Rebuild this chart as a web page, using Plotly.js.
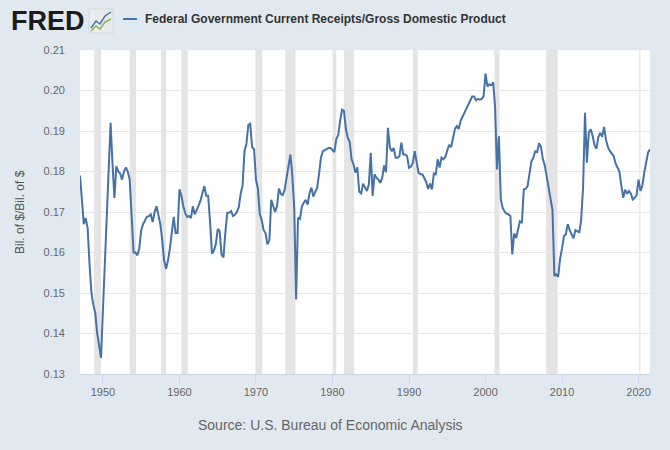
<!DOCTYPE html>
<html>
<head>
<meta charset="utf-8">
<script src="https://cdn.plot.ly/plotly-3.0.1.min.js"></script>
<style>
  html, body { margin: 0; padding: 0; background: #e1e9f0; }
  #chart { width: 670px; height: 450px; }
</style>
</head>
<body>
<div id="chart"></div>
<script>
// Quarterly series, first observation 1947 Q1, last 2021 Q3
const startYear = 1947;
const seriesName = "Federal Government Current Receipts/Gross Domestic Product";
const receiptsToGdp = [
  0.1790,0.1730,0.1670,0.1685, 0.1660,0.1570,0.1500,0.1470, 0.1450,0.1400,0.1370,0.1340,
  0.1460,0.1580,0.1690,0.1780, 0.1920,0.1820,0.1735,0.1813, 0.1800,0.1795,0.1780,0.1800,
  0.1810,0.1800,0.1780,0.1690, 0.1600,0.1600,0.1593,0.1610, 0.1655,0.1670,0.1680,0.1688,
  0.1690,0.1694,0.1675,0.1700, 0.1714,0.1694,0.1670,0.1630, 0.1580,0.1560,0.1580,0.1610,
  0.1650,0.1688,0.1648,0.1648, 0.1756,0.1740,0.1715,0.1698, 0.1688,0.1690,0.1685,0.1714,
  0.1694,0.1703,0.1716,0.1728, 0.1745,0.1764,0.1740,0.1740, 0.1675,0.1597,0.1605,0.1620,
  0.1658,0.1653,0.1595,0.1588, 0.1650,0.1698,0.1698,0.1702, 0.1690,0.1693,0.1700,0.1712,
  0.1745,0.1765,0.1850,0.1868, 0.1915,0.1918,0.1860,0.1855, 0.1780,0.1758,0.1695,0.1680,
  0.1655,0.1648,0.1620,0.1630, 0.1730,0.1714,0.1700,0.1714, 0.1758,0.1745,0.1742,0.1755,
  0.1788,0.1810,0.1842,0.1790, 0.1710,0.1484,0.1686,0.1683, 0.1714,0.1723,0.1730,0.1718,
  0.1747,0.1760,0.1738,0.1750, 0.1760,0.1795,0.1835,0.1850, 0.1853,0.1856,0.1858,0.1858,
  0.1852,0.1848,0.1880,0.1890, 0.1926,0.1953,0.1950,0.1905, 0.1883,0.1873,0.1830,0.1818,
  0.1797,0.1810,0.1750,0.1746, 0.1770,0.1762,0.1752,0.1768, 0.1846,0.1740,0.1793,0.1784,
  0.1780,0.1772,0.1784,0.1815, 0.1798,0.1908,0.1860,0.1850, 0.1858,0.1834,0.1834,0.1838,
  0.1871,0.1842,0.1842,0.1838, 0.1809,0.1812,0.1821,0.1850, 0.1825,0.1797,0.1793,0.1793,
  0.1784,0.1774,0.1757,0.1770, 0.1756,0.1795,0.1793,0.1830, 0.1810,0.1834,0.1830,0.1836,
  0.1852,0.1866,0.1860,0.1882, 0.1905,0.1912,0.1905,0.1925, 0.1935,0.1943,0.1955,0.1963,
  0.1976,0.1985,0.1985,0.1976, 0.1979,0.1978,0.1979,0.1986, 0.2042,0.2010,0.2015,0.2013,
  0.2020,0.1960,0.1805,0.1887, 0.1730,0.1710,0.1701,0.1696, 0.1694,0.1690,0.1595,0.1647,
  0.1636,0.1655,0.1677,0.1673, 0.1756,0.1757,0.1764,0.1795, 0.1825,0.1834,0.1850,0.1848,
  0.1870,0.1861,0.1830,0.1815, 0.1788,0.1755,0.1725,0.1705, 0.1542,0.1546,0.1540,0.1585,
  0.1610,0.1640,0.1645,0.1670, 0.1655,0.1643,0.1635,0.1655, 0.1653,0.1649,0.1680,0.1760,
  0.1945,0.1822,0.1896,0.1904, 0.1888,0.1865,0.1856,0.1885, 0.1895,0.1886,0.1910,0.1878,
  0.1860,0.1851,0.1845,0.1838, 0.1820,0.1808,0.1800,0.1765, 0.1735,0.1755,0.1745,0.1752,
  0.1745,0.1731,0.1735,0.1742, 0.1780,0.1752,0.1765,0.1798, 0.1826,0.1847,0.1855
];
const recessionStarts = ["1948-11-01","1953-07-01","1957-08-01","1960-04-01","1969-12-01","1973-11-01","1980-01-01","1981-07-01","1990-07-01","2001-03-01","2007-12-01","2020-02-01"];
const recessionEnds   = ["1949-10-01","1954-05-01","1958-04-01","1961-02-01","1970-11-01","1975-03-01","1980-07-01","1982-11-01","1991-03-01","2001-11-01","2009-06-01","2020-04-01"];
const yTickVals = [0.13,0.14,0.15,0.16,0.17,0.18,0.19,0.20,0.21];
const yTitle = "Bil. of $/Bil. of $";
const sourceText = "Source: U.S. Bureau of Economic Analysis";

const months = ["01","04","07","10"];
const dates = receiptsToGdp.map((v, i) => (startYear + Math.floor(i / 4)) + "-" + months[i % 4] + "-01");

const W = 670, H = 450, mL = 80, mR = 20, mT = 50, mB = 76;
const pw = W - mL - mR, ph = H - mT - mB;
const px = x => (x - mL) / pw;
const py = y => (H - mB - y) / ph;

const font = "Liberation Sans, Arial, sans-serif";

const shapes = recessionStarts.map((s, i) => ({
  type: "rect", xref: "x", yref: "paper", x0: s, x1: recessionEnds[i], y0: 0, y1: 1,
  fillcolor: "#e4e4e4", line: { width: 0 }, layer: "below"
}));
// FRED logo icon
shapes.push({ type: "rect", xref: "paper", yref: "paper", x0: px(89), x1: px(113), y0: py(33), y1: py(9),
  fillcolor: "#e8ecef", line: { color: "#d0d6dc", width: 1 } });
shapes.push({ type: "path", xref: "paper", yref: "paper",
  path: `M ${px(91)} ${py(28)} L ${px(96)} ${py(21)} L ${px(100)} ${py(24)} L ${px(105)} ${py(16)} L ${px(111)} ${py(12)}`,
  line: { color: "#4572a7", width: 1.5 } });
shapes.push({ type: "path", xref: "paper", yref: "paper",
  path: `M ${px(91)} ${py(31)} L ${px(96)} ${py(26)} L ${px(100)} ${py(29)} L ${px(105)} ${py(22)} L ${px(111)} ${py(19)}`,
  line: { color: "#8db052", width: 1.5 } });
// legend sample line
shapes.push({ type: "line", xref: "paper", yref: "paper", x0: px(123), x1: px(137), y0: py(19), y1: py(19),
  line: { color: "#4572a7", width: 2 } });

const annotations = [
  { text: "<b>FRED</b>", xref: "paper", yref: "paper", x: px(9), y: py(21), xanchor: "left", yanchor: "middle",
    showarrow: false, font: { family: font, size: 27, color: "#1b1b1b" } },
  { text: seriesName, xref: "paper", yref: "paper", x: px(143), y: py(19), xanchor: "left", yanchor: "middle",
    showarrow: false, font: { family: font, size: 12, color: "#333333", weight: "bold" } },
  { text: yTitle, xref: "paper", yref: "paper", x: px(20), y: 0.5, xanchor: "center", yanchor: "middle",
    textangle: -90, showarrow: false, font: { family: font, size: 12, color: "#555555" } },
  { text: sourceText, xref: "paper", yref: "paper", x: px(330), y: py(425), xanchor: "center", yanchor: "middle",
    showarrow: false, font: { family: font, size: 14, color: "#666666" } }
];

const trace = {
  type: "scatter", mode: "lines", x: dates, y: receiptsToGdp, name: seriesName,
  line: { color: "#4572a7", width: 2 }, hoverinfo: "skip"
};

const layout = {
  width: W, height: H,
  margin: { l: mL, r: mR, t: mT, b: mB, pad: 0 },
  paper_bgcolor: "#e1e9f0", plot_bgcolor: "#ffffff",
  showlegend: false,
  font: { family: font, size: 11, color: "#666666" },
  xaxis: {
    type: "date", range: [dates[0], dates[dates.length - 1]],
    tick0: "1950-01-01", dtick: "M120", tickformat: "%Y",
    showgrid: false, zeroline: false,
    showline: true, linecolor: "#ccd6eb", linewidth: 1,
    ticks: "outside", ticklen: 8, tickcolor: "#ccd6eb",
    tickfont: { family: font, size: 11, color: "#666666" }
  },
  yaxis: {
    range: [0.13, 0.21], tickvals: yTickVals, tickformat: ".2f",
    showgrid: true, gridcolor: "#e6e6e6", gridwidth: 1, zeroline: false,
    showline: false, ticks: "", ticklabelstandoff: 14,
    tickfont: { family: font, size: 11, color: "#666666" }
  },
  shapes: shapes,
  annotations: annotations
};

Plotly.newPlot("chart", [trace], layout, { displayModeBar: false, staticPlot: true });
</script>
</body>
</html>
